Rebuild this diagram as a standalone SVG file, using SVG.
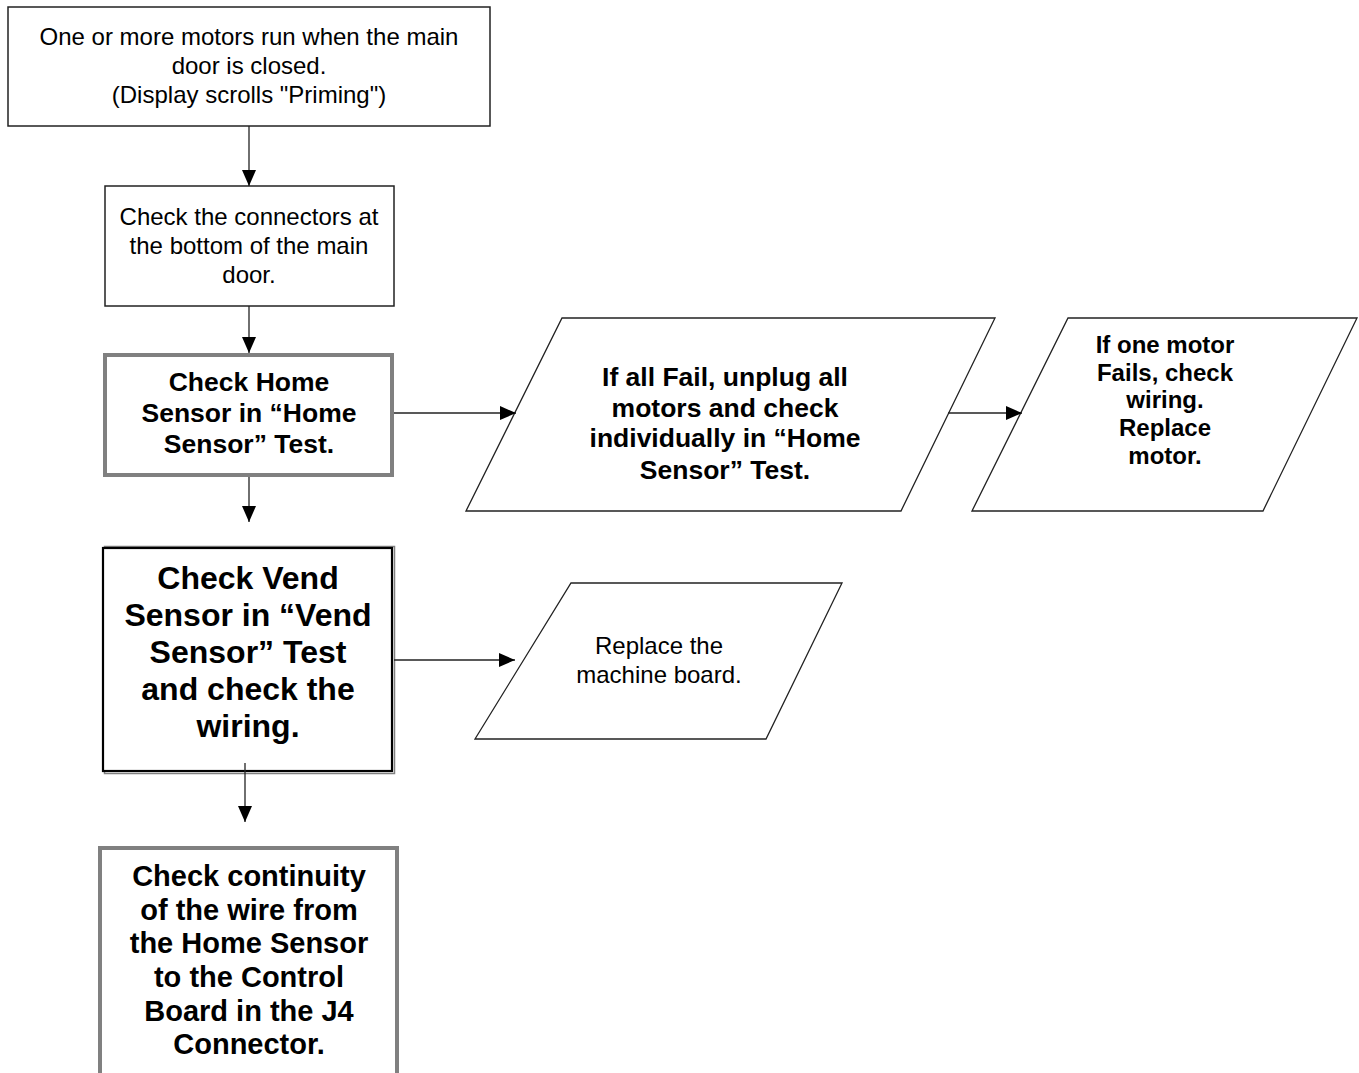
<svg xmlns="http://www.w3.org/2000/svg" width="1359" height="1073" viewBox="0 0 1359 1073">
<defs>
<style>
.box{fill:#fff;stroke:#222;stroke-width:1.5}
.gbox{fill:#fff;stroke:#808080;stroke-width:4}
.para{fill:#fff;stroke:#222;stroke-width:1.3}
.conn{stroke:#222;stroke-width:1.3;fill:none}
.t{font-family:"Liberation Sans",Arial,sans-serif;fill:#000;text-anchor:middle}
.r24{font-size:24px}
.b24{font-size:24px;font-weight:bold}
.b26{font-size:26.5px;font-weight:bold}
.b29{font-size:29px;font-weight:bold}
.b32{font-size:32px;font-weight:bold}
</style>
<marker id="ah" markerWidth="16" markerHeight="14" refX="16" refY="7" orient="auto" markerUnits="userSpaceOnUse">
<path d="M0,0 L16,7 L0,14 Z" fill="#000"/>
</marker>
</defs>
<rect width="1359" height="1073" fill="#fff"/>

<g id="n1">
<rect class="box" x="8" y="7" width="482" height="119"/>
<text class="t r24" x="249" y="45">One or more motors run when the main</text>
<text class="t r24" x="249" y="74">door is closed.</text>
<text class="t r24" x="249" y="103">(Display scrolls "Priming")</text>
</g>

<g id="n2">
<rect class="box" x="105" y="186" width="289" height="120"/>
<text class="t r24" x="249" y="225">Check the connectors at</text>
<text class="t r24" x="249" y="254">the bottom of the main</text>
<text class="t r24" x="249" y="283">door.</text>
</g>

<g id="n3">
<rect class="gbox" x="105" y="355" width="287" height="120"/>
<text class="t b26" x="249" y="391">Check Home</text>
<text class="t b26" x="249" y="422">Sensor in “Home</text>
<text class="t b26" x="249" y="453">Sensor” Test.</text>
</g>

<g id="n4">
<rect x="104.5" y="546.5" width="290" height="227" fill="none" stroke="#808080" stroke-width="1.5"/>
<rect x="103" y="548" width="289" height="223" fill="#fff" stroke="#000" stroke-width="2.2"/>
<text class="t b32" x="248" y="589">Check Vend</text>
<text class="t b32" x="248" y="626">Sensor in “Vend</text>
<text class="t b32" x="248" y="663">Sensor” Test</text>
<text class="t b32" x="248" y="700">and check the</text>
<text class="t b32" x="248" y="737">wiring.</text>
</g>

<g id="n5">
<rect class="gbox" x="100" y="848" width="297" height="260"/>
<text class="t b29" x="249" y="886">Check continuity</text>
<text class="t b29" x="249" y="920">of the wire from</text>
<text class="t b29" x="249" y="953">the Home Sensor</text>
<text class="t b29" x="249" y="987">to the Control</text>
<text class="t b29" x="249" y="1021">Board in the J4</text>
<text class="t b29" x="249" y="1054">Connector.</text>
</g>

<g id="n6">
<polygon class="para" points="562,318 995,318 901,511 466,511"/>
<text class="t b26" x="725" y="386">If all Fail, unplug all</text>
<text class="t b26" x="725" y="417">motors and check</text>
<text class="t b26" x="725" y="447">individually in “Home</text>
<text class="t b26" x="725" y="479">Sensor” Test.</text>
</g>

<g id="n7">
<polygon class="para" points="1068,318 1357,318 1263,511 972,511"/>
<text class="t b24" x="1165" y="353">If one motor</text>
<text class="t b24" x="1165" y="381">Fails, check</text>
<text class="t b24" x="1165" y="408">wiring.</text>
<text class="t b24" x="1165" y="436">Replace</text>
<text class="t b24" x="1165" y="464">motor.</text>
</g>

<g id="n8">
<polygon class="para" points="571,583 842,583 766,739 475,739"/>
<text class="t r24" x="659" y="654">Replace the</text>
<text class="t r24" x="659" y="683">machine board.</text>
</g>

<g id="connectors">
<line class="conn" x1="249" y1="126" x2="249" y2="186" marker-end="url(#ah)"/>
<line class="conn" x1="249" y1="306" x2="249" y2="353" marker-end="url(#ah)"/>
<line class="conn" x1="249" y1="477" x2="249" y2="522" marker-end="url(#ah)"/>
<line class="conn" x1="245" y1="763" x2="245" y2="822" marker-end="url(#ah)"/>
<line class="conn" x1="394" y1="413" x2="516" y2="413" marker-end="url(#ah)"/>
<line class="conn" x1="948" y1="413" x2="1022" y2="413" marker-end="url(#ah)"/>
<line class="conn" x1="394" y1="660" x2="515" y2="660" marker-end="url(#ah)"/>
</g>
</svg>
